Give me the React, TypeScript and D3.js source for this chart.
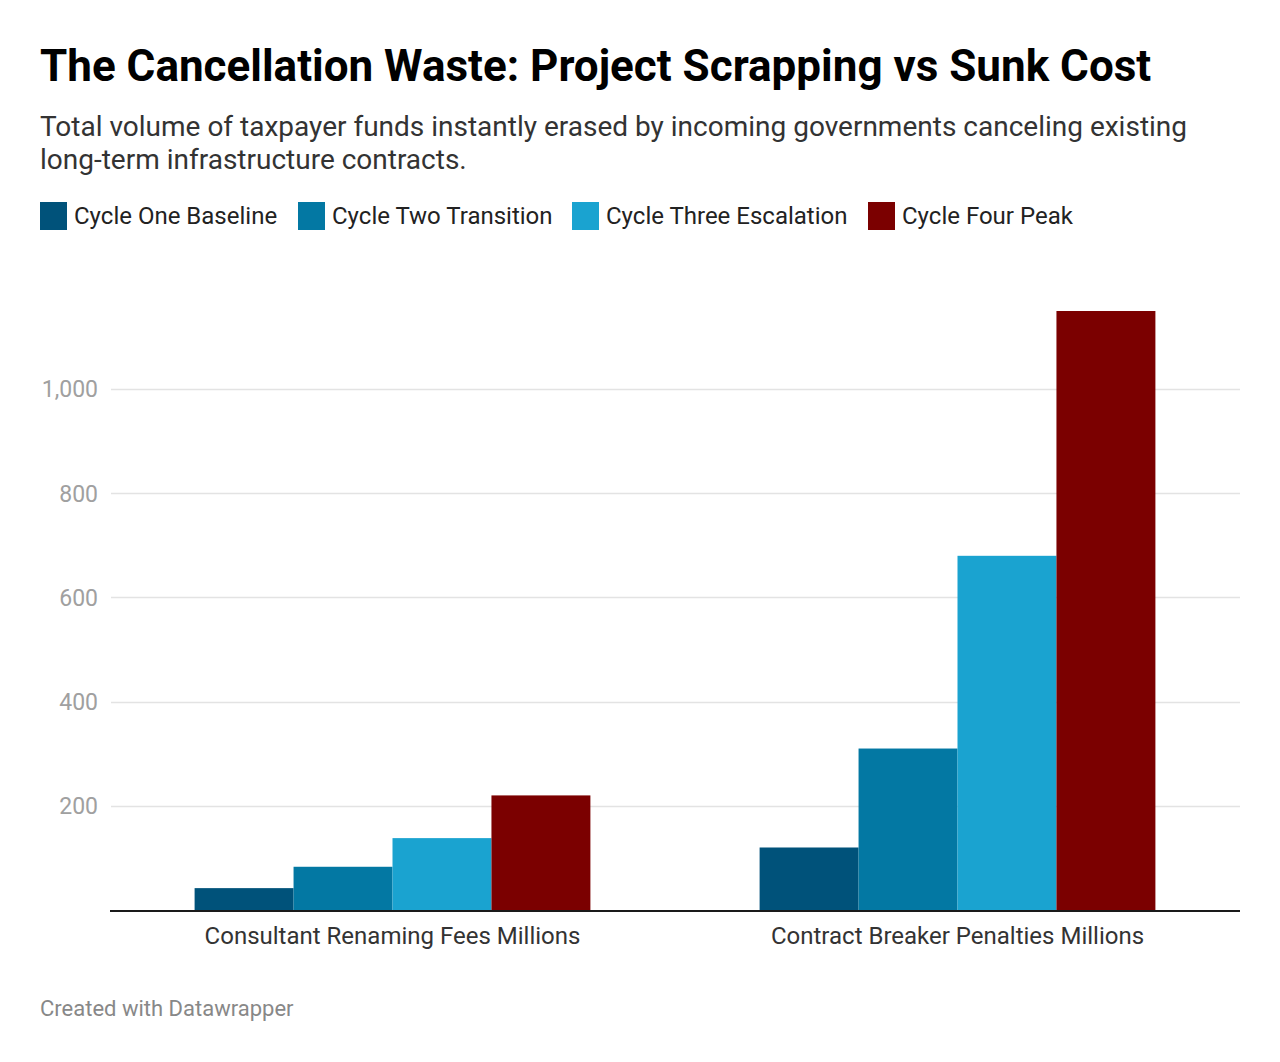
import * as d3 from 'd3';
import { useEffect, useRef } from 'react';

const categories = ['Consultant Renaming Fees Millions', 'Contract Breaker Penalties Millions'];
const seriesNames = ['Cycle One Baseline', 'Cycle Two Transition', 'Cycle Three Escalation', 'Cycle Four Peak'];
const seriesColors = ['#00527a', '#0378a3', '#1aa3d0', '#7b0000'];
// values per series, in category order
const cycleOne = [42, 120];
const cycleTwo = [83, 310];
const cycleThree = [138, 680];
const cycleFour = [220, 1150];
const yTicks = [200, 400, 600, 800, 1000];

const FONT = 'Roboto, "Noto Sans", sans-serif';
const WIDTH = 1280;
const HEIGHT = 1062;

export default function App() {
  const ref = useRef<SVGGElement>(null);

  useEffect(() => {
    if (!ref.current) return;
    const values = [cycleOne, cycleTwo, cycleThree, cycleFour];
    const g = d3.select(ref.current);
    g.selectAll('*').remove();

    const left = 110, right = 1240, top = 311, bottom = 910;

    const x0 = d3.scaleBand().domain(categories).range([left, right]).padding(0);
    const x1 = d3.scaleBand()
      .domain(seriesNames)
      .range([0, x0.bandwidth()])
      .paddingInner(0)
      .paddingOuter(0.855);
    const y = d3.scaleLinear().domain([0, 1150]).range([bottom, top]);

    // gridlines
    g.append('g')
      .selectAll('line')
      .data(yTicks)
      .join('line')
      .attr('x1', left + 1)
      .attr('x2', right)
      .attr('y1', d => Math.round(y(d)) + 0.5)
      .attr('y2', d => Math.round(y(d)) + 0.5)
      .attr('stroke', '#e3e3e3')
      .attr('stroke-width', 1.5);

    g.append('g')
      .selectAll('text')
      .data(yTicks)
      .join('text')
      .attr('x', 98)
      .attr('y', d => y(d))
      .attr('dy', '0.36em')
      .attr('text-anchor', 'end')
      .attr('font-family', FONT)
      .attr('font-size', 23)
      .attr('fill', '#a0a0a0')
      .text(d => d3.format(',')(d));

    // bars
    const groups = g.append('g')
      .selectAll('g')
      .data(categories)
      .join('g')
      .attr('transform', d => `translate(${x0(d)},0)`);

    groups.selectAll('rect')
      .data((_, i) => seriesNames.map((s, j) => ({ s, v: values[j][i], c: seriesColors[j] })))
      .join('rect')
      .attr('x', d => x1(d.s) || 0)
      .attr('y', d => y(d.v))
      .attr('width', x1.bandwidth())
      .attr('height', d => y(0) - y(d.v))
      .attr('fill', d => d.c);

    // baseline
    g.append('line')
      .attr('x1', left)
      .attr('x2', right)
      .attr('y1', bottom + 1)
      .attr('y2', bottom + 1)
      .attr('stroke', '#1a1a1a')
      .attr('stroke-width', 2);

    // category labels
    g.append('g')
      .selectAll('text')
      .data(categories)
      .join('text')
      .attr('x', d => (x0(d) || 0) + x0.bandwidth() / 2)
      .attr('y', 944)
      .attr('text-anchor', 'middle')
      .attr('font-family', FONT)
      .attr('font-size', 24)
      .attr('fill', '#333')
      .text(d => d);
  }, []);

  const legendX = [40, 298, 572, 868];

  return (
    <svg
      width={WIDTH}
      height={HEIGHT}
      style={{ position: 'absolute', left: 0, top: 0, background: '#fff' }}
    >
      <rect width={WIDTH} height={HEIGHT} fill="#fff" />
      <text x={40} y={81} fontFamily={FONT} fontWeight={700} fontSize={44} fill="#000">
        The Cancellation Waste: Project Scrapping vs Sunk Cost
      </text>
      <text fontFamily={FONT} fontSize={28} fill="#333">
        <tspan x={40} y={136}>Total volume of taxpayer funds instantly erased by incoming governments canceling existing</tspan>
        <tspan x={40} y={169}>long-term infrastructure contracts.</tspan>
      </text>
      <g>
        {seriesNames.map((s, i) => (
          <g key={s} transform={`translate(${legendX[i]},202)`}>
            <rect width={27} height={28} fill={seriesColors[i]} />
            <text x={34} y={22} fontFamily={FONT} fontSize={24} fill="#222">
              {s}
            </text>
          </g>
        ))}
      </g>
      <g ref={ref} />
      <text x={40} y={1016} fontFamily={FONT} fontSize={22} fill="#888">
        Created with Datawrapper
      </text>
    </svg>
  );
}
